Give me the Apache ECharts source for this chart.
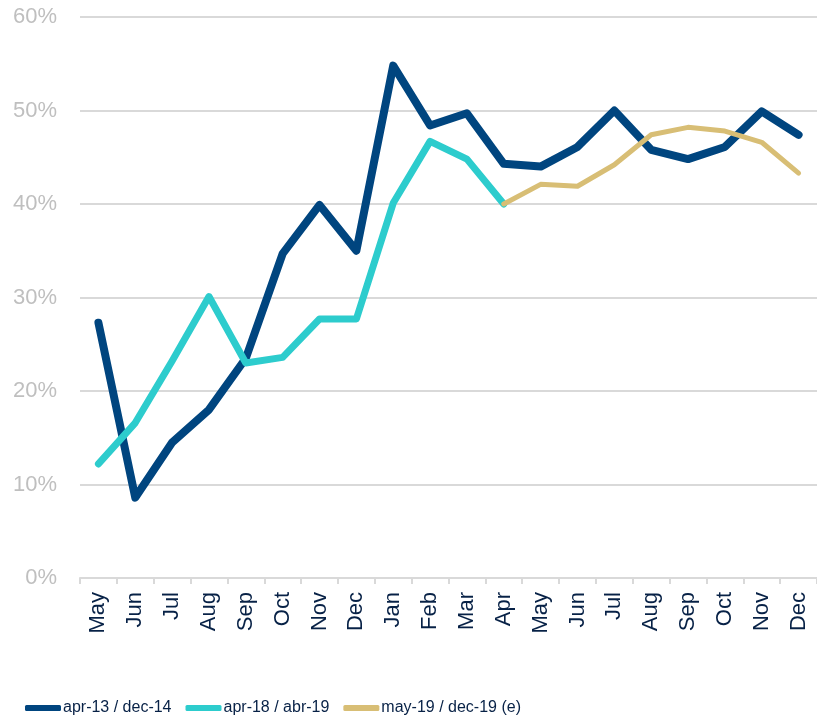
<!DOCTYPE html>
<html>
<head>
<meta charset="utf-8">
<script src="https://cdn.jsdelivr.net/npm/echarts@6/dist/echarts.min.js"></script>
<style>
  html, body { margin: 0; padding: 0; background: #fff; }
  #chart { width: 817px; height: 721px; }
</style>
</head>
<body>
<div id="chart"></div>
<script>
// meses (may-13 .. dec-14)
var months = ["May", "Jun", "Jul", "Aug", "Sep", "Oct", "Nov", "Dec", "Jan", "Feb",
  "Mar", "Apr", "May", "Jun", "Jul", "Aug", "Sep", "Oct", "Nov", "Dec"];

var seriesNames = ["apr-13 / dec-14", "apr-18 / abr-19", "may-19 / dec-19 (e)"];

// valores en %
var dark = [27.3, 8.6, 14.5, 18.0, 23.5, 34.7, 39.9, 35.0, 54.8, 48.4,
  49.7, 44.3, 44.0, 46.1, 50.0, 45.8, 44.8, 46.1, 49.9, 47.4];
var cyan = [12.2, 16.6, 23.2, 30.1, 23.0, 23.6, 27.7, 27.7, 40.1, 46.7,
  44.8, 40.0, null, null, null, null, null, null, null, null];
var gold = [null, null, null, null, null, null, null, null, null, null,
  null, 40.0, 42.1, 41.9, 44.2, 47.4, 48.2, 47.8, 46.6, 43.3];

var colors = ["#00457f", "#2dcccd", "#d8be75"];
var widths = [8, 7, 5];

var myChart = echarts.init(document.getElementById("chart"));

function makeSeries(i, data) {
  return {
    name: seriesNames[i],
    type: "line",
    data: data,
    symbol: "none",
    connectNulls: false,
    lineStyle: { color: colors[i], width: widths[i], cap: "round", join: "round" },
    itemStyle: { color: colors[i] }
  };
}

myChart.setOption({
  animation: false,
  grid: { left: 80, top: 17, width: 740, bottom: 143 },
  legend: {
    left: 20,
    top: 695,
    icon: "roundRect",
    itemWidth: 36,
    itemHeight: 6,
    itemGap: 14,
    textStyle: {
      color: "#072146",
      fontSize: 16,
      fontFamily: "Liberation Sans, Arial, sans-serif",
      padding: [0, 0, 0, -3]
    },
    data: seriesNames
  },
  xAxis: {
    type: "category",
    data: months,
    boundaryGap: true,
    axisLine: { lineStyle: { color: "#d9d9d9", width: 2 } },
    axisTick: { show: true, length: 6, lineStyle: { color: "#d9d9d9", width: 2 } },
    axisLabel: {
      rotate: 90,
      interval: 0,
      margin: 14,
      color: "#072146",
      fontSize: 22,
      fontFamily: "Liberation Sans, Arial, sans-serif"
    }
  },
  yAxis: {
    type: "value",
    min: 0,
    max: 60,
    interval: 10,
    axisLine: { show: false },
    axisTick: { show: false },
    splitLine: { lineStyle: { color: "#d9d9d9", width: 2 } },
    axisLabel: {
      formatter: "{value}%",
      margin: 23,
      color: "#bfbfbf",
      fontSize: 22,
      fontFamily: "Liberation Sans, Arial, sans-serif"
    }
  },
  series: [makeSeries(0, dark), makeSeries(1, cyan), makeSeries(2, gold)]
});
</script>
</body>
</html>
